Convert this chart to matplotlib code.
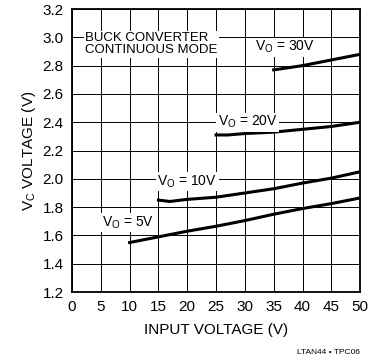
import matplotlib
matplotlib.use("Agg")
import matplotlib.pyplot as plt
from matplotlib import font_manager

# Curves (input voltage -> Vc voltage)
vin_5 = [10, 15, 20, 25, 30, 35, 40, 45, 50]
vc_5 = [1.55, 1.59, 1.63, 1.665, 1.705, 1.75, 1.79, 1.825, 1.865]

vin_10 = [15, 17, 20, 25, 30, 35, 40, 45, 50]
vc_10 = [1.85, 1.84, 1.855, 1.87, 1.90, 1.93, 1.97, 2.005, 2.05]

vin_20 = [25, 27, 30, 35, 40, 45, 50]
vc_20 = [2.31, 2.31, 2.32, 2.33, 2.35, 2.37, 2.40]

vin_30 = [35, 40, 45, 50]
vc_30 = [2.77, 2.80, 2.84, 2.88]

x_ticks = list(range(0, 51, 5))
y_ticks = [1.2, 1.4, 1.6, 1.8, 2.0, 2.2, 2.4, 2.6, 2.8, 3.0, 3.2]

names = {f.name for f in font_manager.fontManager.ttflist}
fam = "Liberation Sans Narrow" if "Liberation Sans Narrow" in names else "Liberation Sans"
plt.rcParams["font.family"] = [fam, "DejaVu Sans"]

fig = plt.figure(figsize=(3.69, 3.61), dpi=100)
ax = fig.add_axes([0.195, 0.191, 0.781, 0.784])

ax.set_xlim(0, 50)
ax.set_ylim(1.2, 3.2)
ax.set_xticks(x_ticks)
ax.set_yticks(y_ticks)
ax.set_yticklabels([f"{v:.1f}" for v in y_ticks])
ax.tick_params(length=0, labelsize=11)
ax.tick_params(axis="y", pad=6)
ax.tick_params(axis="x", pad=6)
ax.grid(True, color="black", lw=0.7)
for s in ax.spines.values():
    s.set_linewidth(1.3)

for xs, ys in [(vin_5, vc_5), (vin_10, vc_10), (vin_20, vc_20), (vin_30, vc_30)]:
    ax.plot(xs, ys, color="black", lw=2.2)

box = dict(facecolor="white", edgecolor="none", pad=1)
ax.text(2.3, 2.95, "BUCK CONVERTER\nCONTINUOUS MODE", fontsize=9.5,
        va="center", ha="left", linespacing=1.0, bbox=box)
ax.text(37, 2.93, "V$_\\mathregular{O}$ = 30V", fontsize=10, ha="center", va="center", bbox=box)
ax.text(30.5, 2.40, "V$_\\mathregular{O}$ = 20V", fontsize=10, ha="center", va="center", bbox=box)
ax.text(20, 1.98, "V$_\\mathregular{O}$ = 10V", fontsize=10, ha="center", va="center", bbox=box)
ax.text(9.7, 1.69, "V$_\\mathregular{O}$ = 5V", fontsize=10, ha="center", va="center", bbox=box)

ax.set_xlabel("INPUT VOLTAGE (V)", fontsize=11, labelpad=6)
ax.set_ylabel("V$_\\mathregular{C}$ VOLTAGE (V)", fontsize=11, labelpad=3)

fig.text(0.975, 0.015, "LTAN44 • TPC06", fontsize=6, ha="right", va="bottom")

fig.savefig("out.png", dpi=100)
